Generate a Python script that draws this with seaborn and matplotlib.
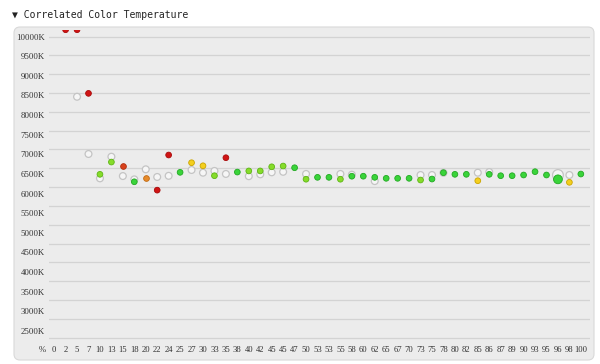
import numpy as np
import pandas as pd
import matplotlib
matplotlib.use("Agg")
import matplotlib.pyplot as plt
import matplotlib.transforms as mtransforms
from matplotlib.patches import FancyBboxPatch
import seaborn as sns

# ---------------- data ----------------
x_labels = ["%", "0", "2", "5", "7", "10", "13", "15", "18", "20", "22", "24",
            "25", "27", "30", "33", "35", "38", "40", "42", "45", "45", "47",
            "50", "53", "53", "55", "58", "60", "62", "65", "67", "70", "73",
            "75", "78", "80", "82", "85", "86", "87", "89", "90", "93", "95",
            "96", "98", "100"]

nan = np.nan
measured_k = [nan, nan, 10180, 10180, 8490, 6340, 6666, 6567, 6142, 6250, 5920,
              6853, 6393, 6648, 6567, 6303, 6781, 6400, 6430, 6430, 6540, 6560,
              6515, 6210, 6260, 6260, 6210, 6290, 6290, 6260, 6234, 6234, 6234,
              6189, 6215, 6383, 6340, 6340, 6170, 6340, 6303, 6303, 6322, 6410,
              6322, 6207, 6128, 6348]

measured_class = [None, None, "red", "red", "red", "yg", "yg", "redorange",
                  "green", "orange", "red", "red", "green", "yellow", "yellow",
                  "yg", "red", "green", "yg", "yg", "yg", "yg", "green", "yg",
                  "green", "green", "yg", "green", "green", "green", "green",
                  "green", "green", "yg", "green", "green", "green", "green",
                  "yellow", "green", "green", "green", "green", "green", "green",
                  "green", "yellow", "green"]

reference_k = [nan, nan, nan, 8400, 6880, 6233, 6808, 6294, 6206, 6473, 6270,
               6300, nan, 6455, 6383, 6430, 6350, nan, 6290, 6340, 6393, 6407,
               nan, 6350, nan, nan, 6350, 6330, nan, 6160, nan, nan, nan, 6322,
               6322, 6380, nan, nan, 6383, 6400, nan, nan, nan, nan, nan, 6322,
               6322, nan]

highlighted_label_index = 45  # the enlarged point

y_tick_values = list(range(10000, 2499, -500))
grid_values = list(range(2000, 10001, 500))

# ---------------- styles ----------------
fill_colors = {"red": "#d01414", "redorange": "#d8411c", "orange": "#e78b2a",
               "yellow": "#f4cf1e", "yg": "#86dc2a", "green": "#3ad43a"}
edge_colors = {"red": "#a80a0a", "redorange": "#b0300f", "orange": "#c06a14",
               "yellow": "#caa400", "yg": "#5db514", "green": "#22a822"}

n = len(x_labels)
kind = ["large" if i == highlighted_label_index else "normal" for i in range(n)]

df_meas = pd.DataFrame({"idx": range(n), "value": measured_k,
                        "cls": measured_class, "kind": kind}).dropna()
df_ref = pd.DataFrame({"idx": range(n), "value": reference_k,
                       "kind": kind}).dropna()

# ---------------- figure ----------------
W, H = 600, 364
fig = plt.figure(figsize=(W / 100, H / 100), dpi=100)

panel = FancyBboxPatch((14, H - 360), 580, 333,
                       boxstyle="round,pad=0,rounding_size=6",
                       transform=mtransforms.IdentityTransform(),
                       facecolor="#ececec", edgecolor="#d9d9d9", lw=0.8,
                       zorder=0)
fig.add_artist(panel)

ax_left, ax_right, ax_top, ax_bottom = 49, 590, 30, 340
ax = fig.add_axes([ax_left / W, (H - ax_bottom) / H,
                   (ax_right - ax_left) / W, (ax_bottom - ax_top) / H])
ax.set_facecolor("none")
for s in ax.spines.values():
    s.set_visible(False)

ax.set_xlim(0.55, 47.8)
ax.set_ylim(1940, 10173)

for v in grid_values:
    ax.axhline(v, color="#d3d3d3", lw=0.9, zorder=0)

sizes = {"normal": 24, "large": 60}
sns.scatterplot(data=df_ref, x="idx", y="value", size="kind", sizes=sizes,
                color="#f6f6f6", edgecolor="#c4c4c4", linewidth=0.9,
                legend=False, ax=ax, zorder=2)

msizes = {"normal": 17, "large": 40}
for cls, sub in df_meas.groupby("cls"):
    sns.scatterplot(data=sub, x="idx", y="value", size="kind", sizes=msizes,
                    color=fill_colors[cls], edgecolor=edge_colors[cls],
                    linewidth=0.6, legend=False, ax=ax, zorder=3)

ax.set_xlabel("")
ax.set_ylabel("")
ax.set_xticks([])

# y labels: in the reference they drift slightly relative to the gridlines
label_pos = [10000 - (10000 - v) * 19.6 / 18.8 for v in y_tick_values]
ax.set_yticks(label_pos, [f"{v}K" for v in y_tick_values])
ax.tick_params(axis="y", length=0, pad=3, labelsize=6.3, labelcolor="#333333")
for t in ax.get_yticklabels():
    t.set_fontfamily("Liberation Serif")

trans = mtransforms.blended_transform_factory(ax.transData, ax.transAxes)
for i, lab in enumerate(x_labels):
    ax.text(i, -10 / (ax_bottom - ax_top), lab, transform=trans,
            ha="center", va="center", fontsize=6.2,
            family="Liberation Serif", color="#333333", clip_on=False)

fig.text(12 / W, 1 - 15 / H, "▼ Correlated Color Temperature",
         family=["DejaVu Sans Mono", "DejaVu Sans"], fontsize=7,
         va="center", ha="left", color="#222222")

fig.savefig("out.png", dpi=100)
